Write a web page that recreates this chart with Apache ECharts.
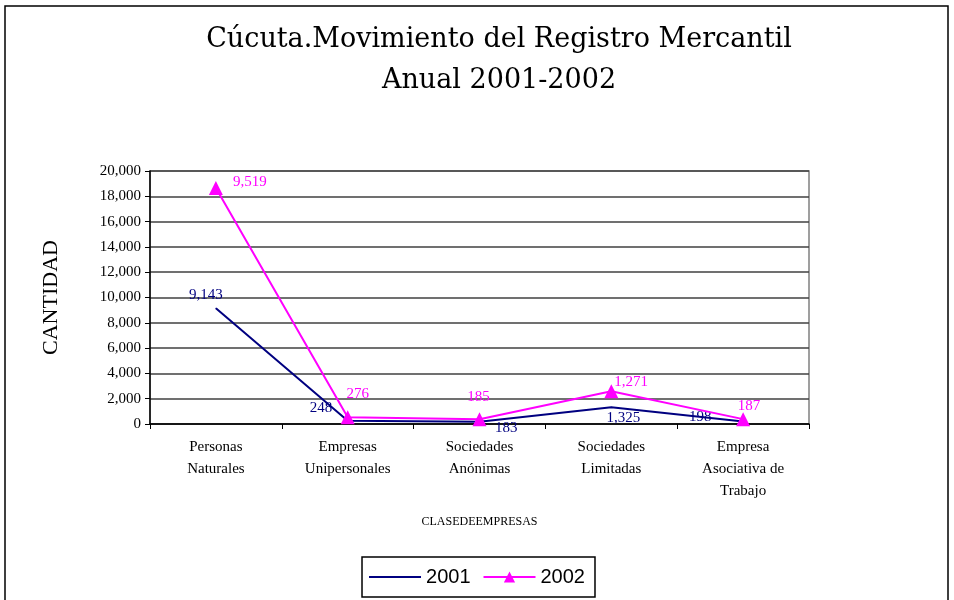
<!DOCTYPE html>
<html>
<head>
<meta charset="utf-8">
<script src="https://cdn.jsdelivr.net/npm/echarts@6/dist/echarts.min.js"></script>
<style>
  html, body { margin: 0; padding: 0; background: #ffffff; }
  #chart { width: 954px; height: 600px; }
</style>
</head>
<body>
<div id="chart"></div>
<script>
// Datos
const categories = [
  'Personas\nNaturales',
  'Empresas\nUnipersonales',
  'Sociedades\nAnónimas',
  'Sociedades\nLimitadas',
  'Empresa\nAsociativa de\nTrabajo'
]
const values2001 = [9143, 248, 183, 1325, 198]
const values2002 = [9519, 276, 185, 1271, 187]
const yTicks = [0, 2000, 4000, 6000, 8000, 10000, 12000, 14000, 16000, 18000, 20000]

const COLORS = {
  s2001: '#000080',
  s2002: '#ff00ff',
  grid: '#404040',
  text: '#000000',
}
const SERIF = '"Liberation Serif", "DejaVu Serif", serif'

const fmt = (v) => Number(v).toLocaleString('en-US')

// posiciones de etiquetas por punto
const pos2001 = [
  { position: 'top', offset: [-10, 0] },
  { position: 'left', offset: [-10, -13] },
  { position: 'right', offset: [10, 6] },
  { position: 'bottom', offset: [12, -2] },
  { position: 'left', offset: [-26, -4] },
]
const pos2002 = [
  { position: 'right', offset: [5, -6] },
  { position: 'top', offset: [10, -4] },
  { position: 'top', offset: [-1, -3] },
  { position: 'right', offset: [-9, -9] },
  { position: 'top', offset: [6, 6] },
]

const chart = echarts.init(document.getElementById('chart'), null, { renderer: 'canvas' })

chart.setOption({
  animation: false,
  backgroundColor: '#ffffff',
  title: {
    text: 'Cúcuta.Movimiento del Registro Mercantil\nAnual 2001-2002',
    left: 494,
    textAlign: 'center',
    top: 14,
    textStyle: {
      fontFamily: '"DejaVu Serif", serif',
      fontWeight: 'normal',
      fontSize: 27,
      lineHeight: 41,
      color: COLORS.text,
    },
  },
  graphic: [
    {
      type: 'rect',
      shape: { x: 5, y: 6, width: 943, height: 620 },
      style: { fill: null, stroke: '#000', lineWidth: 1.5 },
      silent: true,
    },
  ],
  legend: {
    bottom: 3,
    left: 'center',
    data: [
      { name: '2001', icon: 'path://M0,0 L0,0 M0,6 L52,6 L52,8 L0,8 Z M52,14 L52,14' },
      { name: '2002' },
    ],
    itemWidth: 52,
    itemHeight: 14,
    itemGap: 12,
    padding: [10, 10, 10, 7],
    borderColor: '#000',
    borderWidth: 1.5,
    textStyle: {
      fontFamily: '"Liberation Sans", Arial, sans-serif',
      fontSize: 20,
      color: COLORS.text,
    },
  },
  grid: {
    left: 150,
    right: 145,
    top: 171,
    bottom: 176,
    show: true,
    borderColor: '#808080',
    borderWidth: 1.5,
  },
  xAxis: {
    type: 'category',
    data: categories,
    boundaryGap: true,
    name: 'CLASEDEEMPRESAS',
    nameLocation: 'middle',
    nameGap: 92,
    nameTextStyle: { fontFamily: SERIF, fontSize: 12, color: COLORS.text },
    axisLine: { lineStyle: { color: '#000', width: 1.5 } },
    axisTick: { show: true, length: 5, lineStyle: { color: '#000' } },
    axisLabel: {
      fontFamily: SERIF,
      fontSize: 15,
      lineHeight: 22,
      color: COLORS.text,
      margin: 12,
      interval: 0,
    },
  },
  yAxis: {
    type: 'value',
    min: yTicks[0],
    max: yTicks[yTicks.length - 1],
    interval: yTicks[1] - yTicks[0],
    name: 'CANTIDAD',
    nameLocation: 'middle',
    nameGap: 88,
    nameTextStyle: { fontFamily: SERIF, fontSize: 22, color: COLORS.text },
    axisLine: { show: true, lineStyle: { color: '#000', width: 1.5 } },
    axisTick: { show: true, length: 5, lineStyle: { color: '#000' } },
    axisLabel: {
      fontFamily: SERIF,
      fontSize: 15,
      color: COLORS.text,
      margin: 9,
      formatter: (v) => fmt(v),
    },
    splitLine: { lineStyle: { color: COLORS.grid, width: 1.5 } },
  },
  series: [
    {
      name: '2001',
      type: 'line',
      stack: 'total',
      data: values2001.map((v, i) => ({ value: v, label: pos2001[i] })),
      symbol: 'circle',
      symbolSize: 1,
      showAllSymbol: true,
      lineStyle: { color: COLORS.s2001, width: 2 },
      itemStyle: { color: COLORS.s2001 },
      label: {
        show: true,
        fontFamily: SERIF,
        fontSize: 15,
        color: COLORS.s2001,
        formatter: (p) => fmt(p.value),
      },
      z: 3,
    },
    {
      name: '2002',
      type: 'line',
      stack: 'total',
      data: values2002.map((v, i) => ({ value: v, label: pos2002[i] })),
      symbol: 'triangle',
      symbolSize: 14,
      showAllSymbol: true,
      lineStyle: { color: COLORS.s2002, width: 2 },
      itemStyle: { color: COLORS.s2002 },
      label: {
        show: true,
        fontFamily: SERIF,
        fontSize: 15,
        color: COLORS.s2002,
        formatter: (p) => fmt(p.value),
      },
      z: 4,
    },
  ],
})

window.addEventListener('resize', () => chart.resize())
</script>
</body>
</html>
